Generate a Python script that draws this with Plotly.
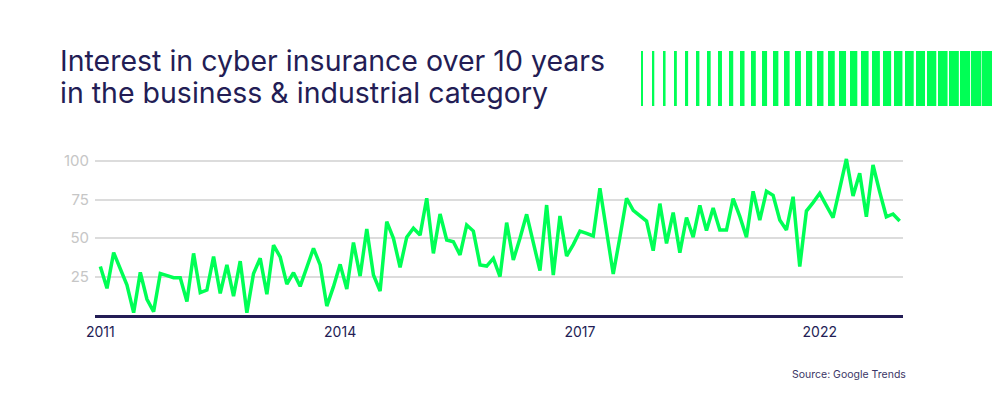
import plotly.graph_objects as go

# ---- data ----
interest = [
    31.5, 17.3, 40.5, 30.0, 19.5, 1.5, 27.7, 10.2, 2.2, 27.0,
    25.5, 24.2, 24.2, 8.7, 40.0, 14.5, 16.2, 37.9, 14.0, 32.5,
    12.3, 35.0, 1.5, 27.0, 36.8, 13.5, 45.3, 37.7, 20.0, 27.5,
    18.6, 31.0, 43.3, 32.5, 5.8, 18.4, 32.9, 16.9, 47.0, 25.3,
    55.8, 26.0, 15.6, 60.6, 49.8, 31.0, 50.5, 56.3, 51.9, 75.8,
    40.0, 65.6, 48.7, 47.6, 39.0, 58.4, 54.5, 32.5, 31.8, 36.8,
    24.9, 60.0, 35.7, 49.8, 65.4, 47.0, 28.8, 71.4, 26.0, 64.3,
    38.3, 45.7, 54.5, 53.0, 51.3, 82.3, 54.4, 26.6, 50.5, 75.8,
    68.0, 64.5, 61.0, 41.8, 72.3, 46.5, 66.5, 40.5, 63.3, 50.5,
    71.2, 54.8, 69.5, 55.2, 55.2, 75.5, 64.0, 50.5, 80.3, 61.7,
    80.3, 77.7, 61.7, 55.2, 76.8, 31.4, 67.5, 73.0, 79.0, 71.0,
    63.2, 82.0, 101.3, 77.3, 92.0, 63.8, 97.4, 80.0, 63.8, 65.6,
    61.0,
]
period = list(range(len(interest)))
x_tick_pos = [0, 36, 72, 108]
x_tick_labels = ["2011", "2014", "2017", "2022"]
y_tick_vals = [25, 50, 75, 100]
y_tick_labels = ["25", "50", "75", "100"]

title_lines = ["Interest in cyber insurance over 10 years",
               "in the business & industrial category"]
source_text = "Source: Google Trends"

# ---- style ----
OFF = 8  # page body margin offset
W, H = 1000, 399
PLOT_L, PLOT_R, PLOT_T, PLOT_B = 95, 903, 155, 315  # page pixel positions
ML = PLOT_L - OFF
MT = PLOT_T - OFF
MR = W - (PLOT_R - OFF)
MB = H - (PLOT_B - OFF)
PW, PH = W - ML - MR, H - MT - MB
GREEN = "#00ff55"
NAVY = "#231d55"
FONT = "Inter"


def px(x):
    return (x - OFF - ML) / PW


def py(y):
    return (H - MB - (y - OFF)) / PH


fig = go.Figure()
fig.add_trace(go.Scatter(
    x=period, y=interest, mode="lines",
    line=dict(color=GREEN, width=3.5), hoverinfo="skip",
))

fig.update_layout(
    width=W, height=H,
    margin=dict(l=ML, r=MR, t=MT, b=MB),
    paper_bgcolor="white", plot_bgcolor="white",
    showlegend=False,
    font=dict(family=FONT),
    xaxis=dict(
        range=[-0.8, 120.5], tickmode="array",
        tickvals=x_tick_pos, ticktext=x_tick_labels,
        showgrid=False, zeroline=False,
        showline=True, linecolor=NAVY, linewidth=3,
        ticks="", tickfont=dict(color=NAVY, size=14, family=FONT),
        ticklabelstandoff=2,
    ),
    yaxis=dict(
        range=[0, 103.9], tickmode="array",
        tickvals=y_tick_vals, ticktext=y_tick_labels,
        showgrid=True, gridcolor="#dcdcdc", gridwidth=1.5,
        zeroline=False, showline=False, ticks="",
        tickfont=dict(color="#c6c6c6", size=15, family=FONT),
        ticklabelstandoff=5,
    ),
)

# title
for i, line in enumerate(title_lines):
    fig.add_annotation(
        text=line, xref="paper", yref="paper",
        x=px(58), y=py(60 + 32 * i), xanchor="left", yanchor="middle",
        showarrow=False,
        font=dict(family=FONT, size=28.5, color=NAVY),
    )

# source
fig.add_annotation(
    text=source_text, xref="paper", yref="paper",
    x=px(908), y=py(374), xanchor="right", yanchor="middle",
    showarrow=False,
    font=dict(family=FONT, size=10.5, color="#3b3666"),
)

# decorative bars (top right)
n_bars = 33
for i in range(n_bars):
    left = 641 + 11 * i
    w = 2 + 0.28 * i
    right = left + w
    fig.add_shape(
        type="rect", xref="paper", yref="paper",
        x0=px(left), x1=px(right), y0=py(106), y1=py(51),
        line=dict(width=0), fillcolor=GREEN, layer="above",
    )

fig.write_html("out.html")
